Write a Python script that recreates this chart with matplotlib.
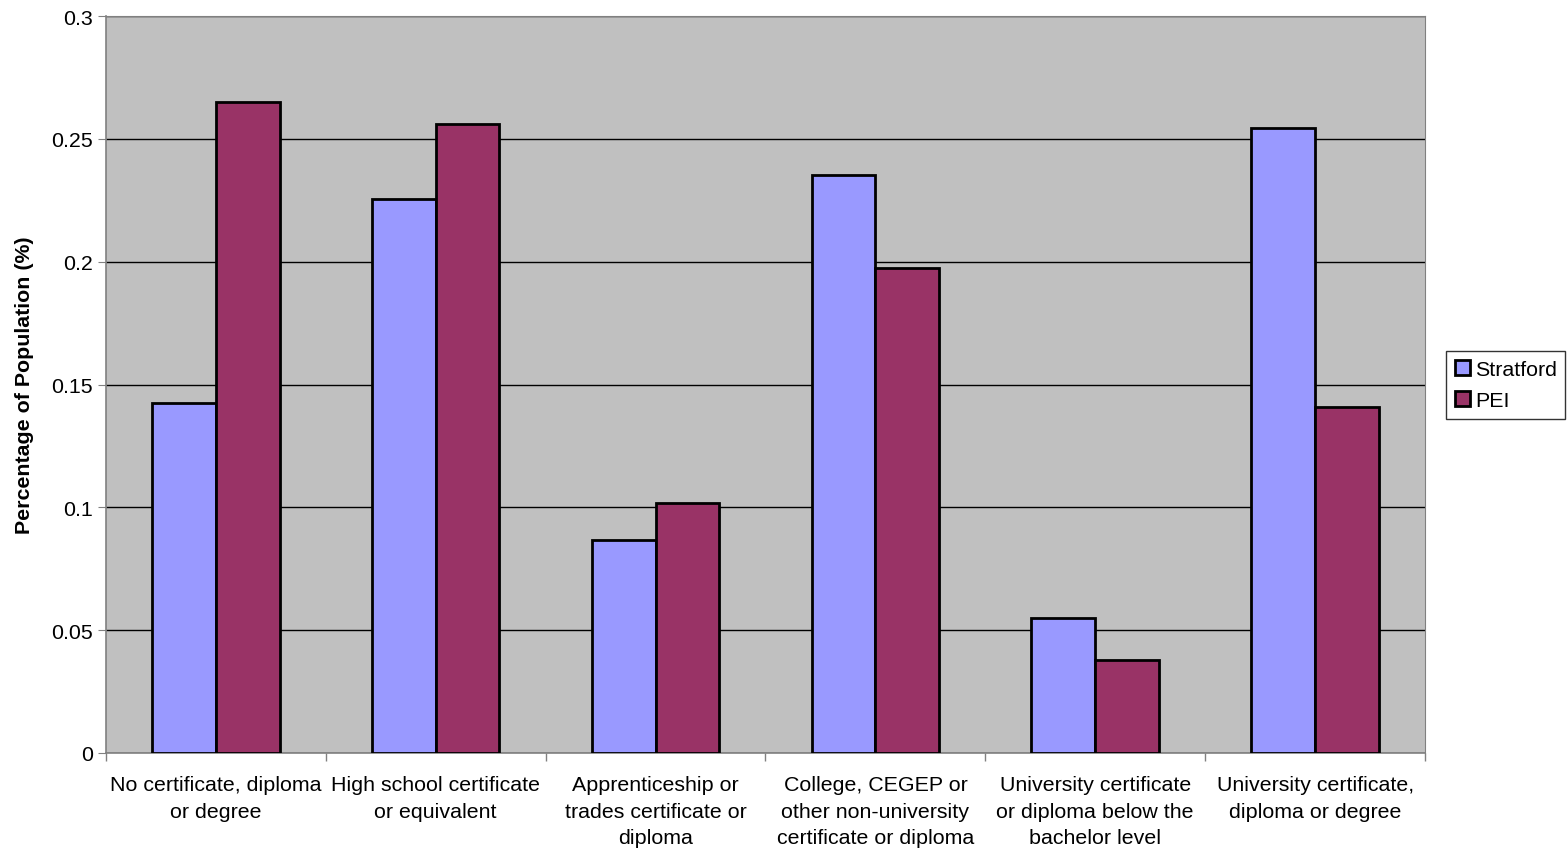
import matplotlib.pyplot as plt
import numpy as np

plt.rcParams['font.family'] = ['Liberation Sans', 'DejaVu Sans']

categories = [
    "No certificate, diploma\nor degree",
    "High school certificate\nor equivalent",
    "Apprenticeship or\ntrades certificate or\ndiploma",
    "College, CEGEP or\nother non-university\ncertificate or diploma",
    "University certificate\nor diploma below the\nbachelor level",
    "University certificate,\ndiploma or degree",
]
stratford = [0.1425, 0.2255, 0.0867, 0.2353, 0.0550, 0.2544]
pei = [0.2650, 0.2560, 0.1018, 0.1974, 0.0379, 0.1408]

fs = 15.4

fig = plt.figure(figsize=(15.68, 8.54), dpi=100)
ax = fig.add_axes([0.0676, 0.1171, 0.8412, 0.8629])
ax.set_facecolor("#c0c0c0")

x = np.arange(len(categories))
width = 0.29
ax.bar(x - width / 2, stratford, width, color="#9999ff", edgecolor="black",
       linewidth=2, label="Stratford", zorder=3)
ax.bar(x + width / 2, pei, width, color="#993366", edgecolor="black",
       linewidth=2, label="PEI", zorder=3)

ax.set_xlim(-0.5, len(categories) - 0.5)
ax.set_ylim(0, 0.3)
ax.set_yticks([0, 0.05, 0.1, 0.15, 0.2, 0.25, 0.3])
ax.set_yticklabels(["0", "0.05", "0.1", "0.15", "0.2", "0.25", "0.3"])
ax.yaxis.grid(True, color="black", linewidth=1, zorder=0)
ax.set_axisbelow(True)

# category labels centred, tick marks on the group boundaries
ax.set_xticks(x)
ax.set_xticklabels(categories, fontsize=fs, linespacing=1.5)
ax.tick_params(axis="x", length=0, pad=16)
ax.set_xticks(np.arange(-0.5, len(categories)), minor=True)
ax.tick_params(axis="x", which="minor", length=6, width=1, color="#808080")
ax.tick_params(axis="y", labelsize=fs, length=6, color="#808080")

for side in ["top", "right"]:
    ax.spines[side].set_color("#808080")
for side in ["left", "bottom"]:
    ax.spines[side].set_color("#808080")
    ax.spines[side].set_linewidth(1.2)

ax.set_ylabel("Percentage of Population (%)", fontsize=fs, fontweight="bold",
              labelpad=12)

leg = fig.legend(loc="upper left", bbox_to_anchor=(0.9222, 0.5878),
                 borderaxespad=0, fontsize=fs, frameon=True, fancybox=False,
                 edgecolor="black", handlelength=0.7, handleheight=0.7,
                 handletextpad=0.25, borderpad=0.4, labelspacing=0.6)
leg.get_frame().set_linewidth(1)

plt.savefig("out.png", dpi=100)
